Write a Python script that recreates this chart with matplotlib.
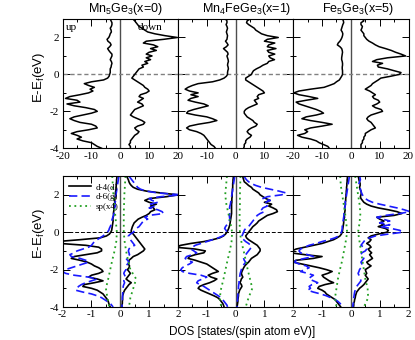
import numpy as np
import matplotlib
matplotlib.use('Agg')
from matplotlib import pyplot as plt
from matplotlib.ticker import MultipleLocator

plt.rcParams['font.family'] = 'Liberation Sans'
plt.rcParams['mathtext.fontset'] = 'custom'
plt.rcParams['mathtext.rm'] = 'Liberation Sans'
plt.rcParams['mathtext.default'] = 'regular'
plt.rcParams['axes.unicode_minus'] = False

energy = np.round(np.arange(3.0, -4.01, -0.1), 1)
energy_sp = np.round(np.arange(3.0, -4.01, -0.5), 1)

titles = ['Mn$_5$Ge$_3$(x=0)', 'Mn$_4$FeGe$_3$(x=1)', 'Fe$_5$Ge$_3$(x=5)']
top_xticks = [-20, -10, 0, 10, 20]
bot_xticks = [-2, -1, 0, 1, 2]
top_xlabels = [[-20, -10, 0, 10, 20], [-10, 0, 10], [-20, -10, 0, 10, 20]]
bot_xlabels = [[-2, -1, 0, 1, 2], [-1, 0, 1, 2], [-1, 0, 1, 2]]
yticks = [-4, -2, 0, 2]

# total DOS (top row), spin up drawn negative
mn5_up = [-3.5, -3.2, -2.9, -2.9, -3.1, -3.5, -3.2, -3.1, -3.5, -3.7,
          -4.0, -4.6, -4.3, -3.5, -3.2, -3.7, -4.4, -4.0, -3.5, -2.9,
          -2.9, -3.2, -3.5, -3.1, -2.9, -3.1, -3.2, -3.5, -3.5, -3.5,
          -3.7, -3.9, -4.4, -5.8, -10, -12.5, -11, -9, -10.5, -9.5,
          -11, -14, -17.5, -19, -15, -14, -18.5, -16, -12, -9,
          -8, -10, -13, -16, -17.5, -16, -14, -10, -8.5, -8,
          -11, -15, -17, -15, -13.5, -15, -13, -10, -9, -8,
          -6.5]
mn5_dn = [4.4, 5, 5.5, 6, 6.5, 7.5, 8.5, 9.5, 12, 15.5,
          19.8, 15, 9, 8, 11.5, 13, 10.5, 12.5, 10, 9,
          11, 9, 10.5, 8.5, 9.5, 7.5, 8, 6.5, 6, 5.5,
          5, 4.5, 4, 5, 6, 7, 8, 8.5, 9.5, 10,
          9, 7, 6.5, 8, 7, 6, 7.5, 8, 6.5, 5,
          4.5, 4, 3.5, 4.5, 6, 7.5, 8.5, 8, 6, 5,
          5.5, 6.5, 6, 5, 4.5, 4, 3.5, 3.5, 3, 3.5,
          3.5]
mn4_up = [-3.5, -3.0, -3.0, -3.3, -3.0, -2.8, -3.0, -3.2, -3.0, -2.8,
          -2.9, -3.0, -3.5, -3.0, -2.6, -3.2, -4.2, -3.5, -2.8, -2.6,
          -3.0, -2.8, -2.6, -2.5, -2.7, -2.8, -2.6, -2.5, -2.7, -2.8,
          -2.8, -3.2, -4.0, -5.5, -8, -13, -15, -16.5, -17.5, -16,
          -13, -15.5, -13, -15.5, -16.5, -14, -11, -9.5, -12, -14.5,
          -16.5, -17, -14, -10, -8, -6.5, -9, -13, -16, -17,
          -16, -13.5, -12, -11, -10.5, -10, -9.5, -9, -8.5, -7.5,
          -7]
mn4_dn = [5.0, 4.0, 3.8, 4.5, 5.5, 6.5, 7.0, 8.0, 9.0, 11,
          14.8, 11, 10, 13.6, 11.5, 11, 14, 11, 11.5, 13.6,
          11.5, 12, 13.5, 11.5, 11, 9.5, 8.5, 7.2, 6.2, 5.8,
          5.5, 4.5, 3.5, 3.5, 4.5, 5.5, 6.5, 7.5, 8.5, 9.5,
          10, 8, 7.5, 8, 6.5, 7, 7.5, 6, 4.5, 3.5,
          3, 3, 3.5, 4, 5, 6, 6.5, 7.5, 7, 5.5,
          4.5, 4, 4.5, 5.5, 5, 4, 3.5, 3.5, 3, 3,
          2.8]
fe5_up = [-2.9, -2.6, -2.5, -2.8, -3.0, -3.2, -3.4, -3.0, -2.8, -2.9,
          -3.1, -3.4, -3.8, -4.4, -4.7, -3.8, -3.2, -3.0, -2.9, -3.0,
          -3.1, -3.2, -3.2, -3.0, -2.9, -2.9, -3.0, -3.0, -2.9, -2.9,
          -2.9, -3.2, -3.6, -4.0, -5.0, -5.8, -7.5, -9.3, -14, -18,
          -19.8, -18, -14.5, -11.5, -15.5, -19, -18, -16, -14, -12,
          -10.5, -9.5, -12, -15.5, -17, -14, -10, -6.5, -10, -14,
          -16, -15, -16, -18.5, -17, -14, -12, -11, -9.5, -8,
          -7.5]
fe5_dn = [4.0, 4.5, 3.5, 3.5, 4.0, 3.8, 3.5, 4.0, 4.5, 4.5,
          5.0, 5.5, 6.3, 7.5, 8.5, 9.8, 12, 14, 15.5, 17.4,
          19, 12.7, 9, 7.5, 11, 9.2, 9.5, 12.7, 15, 17.4,
          16.8, 13.8, 10.4, 9.5, 8.5, 7.5, 7, 6, 5, 6.5,
          7.5, 8.5, 7.5, 8, 9.5, 10, 9, 7.5, 8.5, 10.5,
          11, 9, 7, 6, 5.5, 6, 7, 7.5, 8, 8.5,
          7, 6, 5, 5, 4.5, 4.5, 4, 4, 3.5, 3.5,
          3.5]

# partial DOS (bottom row): d-4(d), d-6(g), sp(x4)
mn5_d_up = [-0.12, -0.12, -0.13, -0.13, -0.14, -0.14, -0.15, -0.15, -0.16, -0.17,
            -0.17, -0.18, -0.19, -0.20, -0.19, -0.21, -0.22, -0.21, -0.22, -0.23,
            -0.24, -0.23, -0.25, -0.26, -0.25, -0.26, -0.27, -0.28, -0.29, -0.30,
            -0.33, -0.38, -0.48, -0.70, -1.4, -2.2, -2.1, -1.2, -0.75, -0.65,
            -0.65, -0.8, -1.2, -1.6, -1.7, -1.4, -1.15, -1.0, -0.9, -0.75,
            -0.65, -0.6, -0.75, -1.0, -1.1, -0.8, -0.6, -0.9, -1.25, -1.3,
            -1.0, -0.8, -0.7, -0.6, -0.55, -0.5, -0.45, -0.42, -0.4, -0.38,
            -0.35]
mn5_d_dn = [0.22, 0.25, 0.28, 0.3, 0.33, 0.38, 0.45, 0.6, 0.9, 1.4,
            2.0, 1.6, 1.0, 0.85, 1.0, 1.25, 1.05, 1.15, 1.2, 1.05,
            1.0, 0.9, 0.75, 0.62, 0.55, 0.48, 0.45, 0.42, 0.4, 0.38,
            0.38, 0.45, 0.5, 0.55, 0.6, 0.65, 0.7, 0.75, 0.8, 0.85,
            0.8, 0.7, 0.6, 0.45, 0.38, 0.3, 0.3, 0.28, 0.32, 0.3,
            0.25, 0.3, 0.35, 0.3, 0.25, 0.2, 0.28, 0.38, 0.3, 0.25,
            0.2, 0.15, 0.12, 0.1, 0.08, 0.08, 0.08, 0.07, 0.07, 0.06,
            0.06]
mn5_g_up = [-0.05, -0.06, -0.07, -0.08, -0.09, -0.10, -0.11, -0.12, -0.13, -0.14,
            -0.15, -0.16, -0.17, -0.16, -0.18, -0.19, -0.17, -0.20, -0.22, -0.20,
            -0.22, -0.24, -0.26, -0.28, -0.30, -0.30, -0.32, -0.35, -0.38, -0.40,
            -0.45, -0.52, -0.60, -0.70, -0.80, -0.90, -0.95, -1.0, -1.1, -1.3,
            -1.5, -1.6, -1.75, -1.7, -1.4, -1.2, -1.1, -1.3, -1.5, -1.7,
            -1.9, -2.0, -1.9, -1.6, -1.1, -0.8, -1.0, -1.2, -1.35, -1.45,
            -1.5, -1.55, -1.3, -1.0, -0.8, -0.65, -0.55, -0.45, -0.35, -0.3,
            -0.25]
mn5_g_dn = [0.3, 0.35, 0.4, 0.45, 0.5, 0.55, 0.6, 0.7, 0.9, 1.3,
            2.1, 1.4, 1.0, 1.1, 1.3, 1.05, 1.2, 1.0, 1.3, 1.45,
            1.5, 1.0, 0.85, 0.95, 0.8, 0.75, 0.7, 0.65, 0.55, 0.5,
            0.45, 0.35, 0.28, 0.3, 0.35, 0.4, 0.45, 0.5, 0.35, 0.3,
            0.28, 0.3, 0.32, 0.25, 0.2, 0.25, 0.3, 0.25, 0.2, 0.18,
            0.2, 0.15, 0.12, 0.15, 0.18, 0.15, 0.12, 0.15, 0.12, 0.1,
            0.1, 0.09, 0.09, 0.08, 0.08, 0.07, 0.07, 0.07, 0.06, 0.06,
            0.06]
mn5_sp_up = [-0.28, -0.26, -0.24, -0.21, -0.18, -0.15, -0.12, -0.14,
             -0.2, -0.28, -0.35, -0.42, -0.5, -0.45, -0.38]
mn5_sp_dn = [0.18, 0.16, 0.14, 0.13, 0.12, 0.12, 0.12, 0.15,
             0.2, 0.27, 0.35, 0.55, 0.45, 0.35, 0.3]

mn4_d_up = [-0.08, -0.08, -0.09, -0.09, -0.10, -0.10, -0.10, -0.11, -0.11, -0.12,
            -0.12, -0.12, -0.13, -0.13, -0.13, -0.14, -0.14, -0.14, -0.14, -0.14,
            -0.14, -0.15, -0.16, -0.17, -0.18, -0.19, -0.20, -0.22, -0.24, -0.27,
            -0.30, -0.35, -0.42, -0.55, -0.8, -1.1, -1.55, -1.9, -2.1, -1.4,
            -1.05, -1.1, -1.4, -1.6, -1.65, -1.4, -1.2, -1.0, -0.9, -0.8,
            -0.7, -0.6, -0.8, -0.95, -0.85, -0.65, -0.75, -0.9, -1.1, -1.25,
            -1.3, -1.2, -1.05, -0.9, -0.75, -0.62, -0.55, -0.5, -0.45, -0.42,
            -0.4]
mn4_d_dn = [0.25, 0.26, 0.28, 0.3, 0.38, 0.45, 0.55, 0.6, 0.7, 0.8,
            0.85, 0.95, 1.05, 1.2, 1.0, 1.25, 1.15, 1.3, 1.42, 1.45,
            1.3, 1.1, 1.0, 0.9, 0.8, 0.75, 0.68, 0.6, 0.55, 0.5,
            0.45, 0.4, 0.35, 0.38, 0.45, 0.55, 0.65, 0.75, 0.8, 0.85,
            0.85, 0.8, 0.75, 0.65, 0.55, 0.5, 0.45, 0.38, 0.32, 0.28,
            0.25, 0.22, 0.2, 0.22, 0.25, 0.2, 0.18, 0.15, 0.2, 0.22,
            0.18, 0.14, 0.12, 0.1, 0.1, 0.09, 0.08, 0.08, 0.07, 0.06,
            0.05]
mn4_g_up = [-0.03, -0.04, -0.05, -0.06, -0.07, -0.08, -0.09, -0.10, -0.11, -0.12,
            -0.13, -0.14, -0.15, -0.16, -0.17, -0.18, -0.20, -0.21, -0.20, -0.19,
            -0.20, -0.22, -0.21, -0.20, -0.22, -0.25, -0.30, -0.35, -0.38, -0.33,
            -0.30, -0.35, -0.45, -0.6, -0.8, -1.0, -1.2, -1.4, -1.5, -1.55,
            -1.45, -1.35, -1.5, -1.7, -1.75, -1.65, -1.5, -1.6, -1.75, -1.85,
            -1.9, -1.85, -1.6, -1.2, -1.0, -1.15, -1.3, -1.35, -1.25, -1.1,
            -1.0, -0.9, -0.8, -0.7, -0.6, -0.5, -0.45, -0.4, -0.35, -0.3,
            -0.28]
mn4_g_dn = [0.3, 0.33, 0.38, 0.45, 0.55, 0.7, 0.9, 1.2, 1.5, 1.75,
            1.6, 1.1, 0.95, 1.2, 1.05, 1.0, 1.1, 0.95, 0.9, 1.0,
            0.85, 0.75, 0.7, 0.65, 0.6, 0.55, 0.5, 0.45, 0.35, 0.3,
            0.28, 0.25, 0.22, 0.2, 0.28, 0.35, 0.45, 0.52, 0.55, 0.5,
            0.45, 0.4, 0.35, 0.3, 0.28, 0.3, 0.35, 0.3, 0.25, 0.22,
            0.2, 0.18, 0.16, 0.15, 0.14, 0.13, 0.12, 0.12, 0.11, 0.1,
            0.1, 0.09, 0.09, 0.08, 0.08, 0.07, 0.07, 0.06, 0.06, 0.06,
            0.05]
mn4_sp_up = [-0.3, -0.33, -0.36, -0.32, -0.25, -0.18, -0.12, -0.14,
             -0.2, -0.28, -0.35, -0.42, -0.5, -0.55, -0.5]
mn4_sp_dn = [0.17, 0.16, 0.15, 0.15, 0.14, 0.14, 0.15, 0.2,
             0.28, 0.35, 0.42, 0.5, 0.58, 0.45, 0.35]

fe5_d_up = [-0.12, -0.12, -0.13, -0.13, -0.14, -0.14, -0.15, -0.15, -0.16, -0.16,
            -0.17, -0.17, -0.18, -0.18, -0.19, -0.19, -0.2, -0.22, -0.2, -0.21,
            -0.22, -0.23, -0.22, -0.24, -0.25, -0.25, -0.26, -0.27, -0.28, -0.29,
            -0.3, -0.33, -0.38, -0.48, -0.6, -0.8, -1.0, -1.3, -1.6, -1.9,
            -2.05, -2.1, -1.6, -1.0, -1.3, -1.9, -2.0, -1.7, -1.4, -1.1,
            -0.85, -0.65, -0.8, -1.0, -0.95, -0.85, -0.75, -0.6, -0.9, -1.1,
            -1.15, -1.0, -0.9, -0.85, -0.75, -0.65, -0.55, -0.5, -0.45, -0.4,
            -0.35]
fe5_d_dn = [0.25, 0.27, 0.28, 0.3, 0.32, 0.32, 0.3, 0.32, 0.35, 0.36,
            0.35, 0.33, 0.35, 0.4, 0.45, 0.55, 0.7, 0.95, 1.3, 1.6,
            1.77, 1.5, 0.9, 1.0, 1.15, 1.0, 1.15, 0.95, 1.2, 1.3,
            1.25, 0.95, 0.7, 0.6, 0.7, 0.65, 0.55, 0.65, 0.7, 0.6,
            0.65, 0.72, 0.65, 0.7, 0.75, 0.65, 0.55, 0.6, 0.7, 0.6,
            0.5, 0.52, 0.55, 0.5, 0.55, 0.6, 0.55, 0.5, 0.45, 0.38,
            0.3, 0.25, 0.2, 0.18, 0.16, 0.15, 0.13, 0.12, 0.1, 0.1,
            0.09]
fe5_g_up = [-0.05, -0.06, -0.07, -0.08, -0.09, -0.1, -0.11, -0.12, -0.13, -0.14,
            -0.15, -0.16, -0.17, -0.18, -0.2, -0.19, -0.2, -0.21, -0.22, -0.23,
            -0.24, -0.24, -0.25, -0.26, -0.27, -0.28, -0.29, -0.3, -0.3, -0.31,
            -0.33, -0.37, -0.42, -0.55, -0.75, -1.0, -1.2, -1.45, -1.6, -1.75,
            -1.8, -1.75, -1.5, -1.3, -1.6, -1.9, -1.95, -1.8, -1.55, -1.45,
            -1.6, -1.75, -1.5, -1.3, -1.4, -1.45, -1.3, -1.15, -1.35, -1.45,
            -1.4, -1.5, -1.3, -1.05, -0.85, -0.7, -0.55, -0.45, -0.38, -0.32,
            -0.28]
fe5_g_dn = [0.3, 0.32, 0.33, 0.3, 0.28, 0.3, 0.32, 0.33, 0.35, 0.37,
            0.4, 0.45, 0.5, 0.6, 0.75, 1.0, 1.3, 1.6, 1.85, 2.05,
            1.7, 1.2, 0.9, 1.1, 1.35, 1.0, 1.35, 1.0, 1.4, 1.7,
            1.8, 1.3, 0.85, 0.65, 0.5, 0.45, 0.4, 0.35, 0.45, 0.55,
            0.5, 0.38, 0.35, 0.4, 0.45, 0.4, 0.35, 0.38, 0.4, 0.35,
            0.3, 0.28, 0.25, 0.28, 0.3, 0.33, 0.35, 0.3, 0.25, 0.2,
            0.17, 0.15, 0.13, 0.12, 0.11, 0.1, 0.09, 0.08, 0.08, 0.07,
            0.07]
fe5_sp_up = [-0.37, -0.35, -0.3, -0.25, -0.2, -0.16, -0.13, -0.18,
             -0.24, -0.3, -0.38, -0.45, -0.5, -0.55, -0.5]
fe5_sp_dn = [0.15, 0.2, 0.25, 0.3, 0.33, 0.3, 0.25, 0.3,
             0.35, 0.4, 0.45, 0.5, 0.58, 0.6, 0.45]

total_dos = [(mn5_up, mn5_dn), (mn4_up, mn4_dn), (fe5_up, fe5_dn)]
partial_dos = [
    (mn5_d_up, mn5_d_dn, mn5_g_up, mn5_g_dn, mn5_sp_up, mn5_sp_dn),
    (mn4_d_up, mn4_d_dn, mn4_g_up, mn4_g_dn, mn4_sp_up, mn4_sp_dn),
    (fe5_d_up, fe5_d_dn, fe5_g_up, fe5_g_dn, fe5_sp_up, fe5_sp_dn),
]

serif = {'family': 'Liberation Serif', 'size': 8}


def style_axis(ax, xlim, xmajor, xticks, xlabels, show_y):
    ax.set_xlim(*xlim)
    ax.set_ylim(-4, 3)
    ax.xaxis.set_minor_locator(MultipleLocator(xmajor / 2))
    ax.yaxis.set_minor_locator(MultipleLocator(1))
    ax.set_xticks(xticks, [str(t) if t in xlabels else '' for t in xticks],
                  fontdict=serif)
    ax.set_yticks(yticks, [str(t) for t in yticks] if show_y else [],
                  fontdict=serif)
    ax.tick_params(which='both', direction='in', top=True, right=True, width=0.7)
    ax.tick_params(which='major', length=5, pad=2.5)
    ax.tick_params(which='minor', length=2.5)
    for s in ax.spines.values():
        s.set_linewidth(0.8)


fig = plt.figure(figsize=(4.15, 3.4), dpi=100)
left, width = 0.151, 0.2778
title_x = [0.303, 0.595, 0.862]

for i in range(3):
    ax = fig.add_axes([left + i * width, 0.564, width, 0.380])
    up, dn = total_dos[i]
    ax.axvline(0, color='0.3', lw=1)
    ax.axhline(0, color='0.5', lw=1, ls=(0, (3, 2)))
    ax.plot(up, energy, color='black', lw=1.1)
    ax.plot(dn, energy, color='black', lw=1.1)
    style_axis(ax, (-20, 20), 10, top_xticks, top_xlabels[i], i == 0)
    fig.text(title_x[i], 0.965, titles[i], ha='center', va='baseline', fontsize=9)
    if i == 0:
        ax.text(0.03, 0.97, 'up', transform=ax.transAxes, va='top',
                fontsize=8, family='Liberation Serif')
        ax.text(0.65, 0.97, 'down', transform=ax.transAxes, va='top',
                fontsize=8, family='Liberation Serif')

    ax = fig.add_axes([left + i * width, 0.097, width, 0.385])
    d_up, d_dn, g_up, g_dn, sp_up, sp_dn = partial_dos[i]
    ax.axvline(0, color='0.3', lw=1)
    ax.axhline(0, color='black', lw=0.7, ls=(0, (4, 2)))
    ax.plot(d_up, energy, color='black', lw=1.2, label='d-4(d)')
    ax.plot(d_dn, energy, color='black', lw=1.2)
    ax.plot(g_up, energy, color='#1a1aff', lw=1.2, ls=(0, (5, 2.5)), label='d-6(g)')
    ax.plot(g_dn, energy, color='#1a1aff', lw=1.2, ls=(0, (5, 2.5)))
    ax.plot(sp_up, energy_sp, color='#22a022', lw=1.3, ls=(0, (1, 2)), label='sp(x4)')
    ax.plot(sp_dn, energy_sp, color='#22a022', lw=1.3, ls=(0, (1, 2)))
    style_axis(ax, (-2, 2), 1, bot_xticks, bot_xlabels[i], i == 0)
    if i == 0:
        ax.legend(loc='upper left', frameon=False, handlelength=2.4,
                  labelspacing=0.2, borderaxespad=0.3, handletextpad=0.6,
                  prop={'family': 'Liberation Serif', 'size': 6.5})

fig.text(0.094, 0.774, 'E-E$_f$(eV)', rotation=90, ha='center', va='center', fontsize=9.5)
fig.text(0.094, 0.314, 'E-E$_f$(eV)', rotation=90, ha='center', va='center', fontsize=9.5)
fig.text(0.583, 0.023, 'DOS [states/(spin atom eV)]', ha='center', va='center', fontsize=8.5)

fig.savefig('out.png', dpi=100)
